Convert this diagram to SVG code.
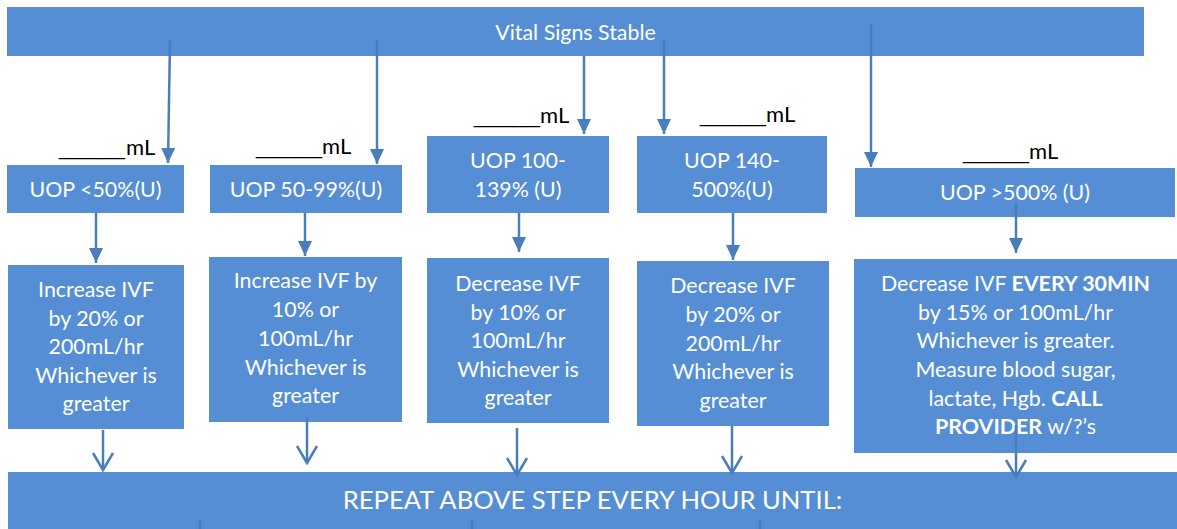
<svg xmlns="http://www.w3.org/2000/svg" width="1177" height="529" viewBox="0 0 1177 529">
<style>
.box{fill:#558ED5}
.t{font-family:Lato,'Liberation Sans',sans-serif;font-size:21.4px;fill:#ffffff;text-anchor:middle}
.big{font-size:25.6px}
.lbl{font-family:Lato,'Liberation Sans',sans-serif;font-size:22px;fill:#000000}
.u{font-family:'Liberation Sans',sans-serif}
.c{stroke:#4A7EBB;stroke-width:2.5;fill:none}
.f{marker-end:url(#fill)}
.o{marker-end:url(#open)}
</style>
<defs>
<marker id="fill" markerUnits="userSpaceOnUse" markerWidth="16" markerHeight="16" refX="15" refY="7" orient="auto" overflow="visible">
<path d="M0,0 L15,7 L0,14 z" fill="#4A7EBB"/>
</marker>
<marker id="open" markerUnits="userSpaceOnUse" markerWidth="24" markerHeight="24" refX="18" refY="11" orient="auto" overflow="visible">
<path d="M1,1 L18,11 L1,21" fill="none" stroke="#4A7EBB" stroke-width="2.5"/>
</marker>
</defs>

<g id="vital">
<rect class="box" x="7" y="7" width="1137" height="49"/>
<text class="t" x="575.5" y="40">Vital Signs Stable</text>
</g>

<g id="label1"><text class="lbl" x="59" y="155"><tspan class="u" textLength="66" lengthAdjust="spacingAndGlyphs">_____</tspan><tspan x="126">mL</tspan></text></g>
<g id="label2"><text class="lbl" x="256" y="154"><tspan class="u" textLength="66" lengthAdjust="spacingAndGlyphs">_____</tspan><tspan x="322">mL</tspan></text></g>
<g id="label3"><text class="lbl" x="474" y="123"><tspan class="u" textLength="66" lengthAdjust="spacingAndGlyphs">_____</tspan><tspan x="540">mL</tspan></text></g>
<g id="label4"><text class="lbl" x="700" y="122"><tspan class="u" textLength="66" lengthAdjust="spacingAndGlyphs">_____</tspan><tspan x="766">mL</tspan></text></g>
<g id="label5"><text class="lbl" x="963" y="159"><tspan class="u" textLength="66" lengthAdjust="spacingAndGlyphs">_____</tspan><tspan x="1029">mL</tspan></text></g>

<g id="uop1">
<rect class="box" x="7" y="165" width="177" height="48"/>
<text class="t" x="95.5" y="197">UOP &lt;50%(U)</text>
</g>
<g id="uop2">
<rect class="box" x="210" y="165" width="192" height="48"/>
<text class="t" x="306" y="197">UOP 50-99%(U)</text>
</g>
<g id="uop3">
<rect class="box" x="427" y="136" width="182" height="77"/>
<text class="t" x="518" y="168">UOP 100-</text>
<text class="t" x="518" y="197">139% (U)</text>
</g>
<g id="uop4">
<rect class="box" x="637" y="136" width="190" height="77"/>
<text class="t" x="732" y="168">UOP 140-</text>
<text class="t" x="732" y="197">500%(U)</text>
</g>
<g id="uop5">
<rect class="box" x="855" y="168" width="320" height="49"/>
<text class="t" x="1015" y="200">UOP &gt;500% (U)</text>
</g>

<g id="act1">
<rect class="box" x="8" y="265" width="176" height="164"/>
<text class="t" x="96" y="297">Increase IVF</text>
<text class="t" x="96" y="326">by 20% or</text>
<text class="t" x="96" y="354">200mL/hr</text>
<text class="t" x="96" y="383">Whichever is</text>
<text class="t" x="96" y="411">greater</text>
</g>
<g id="act2">
<rect class="box" x="209" y="257" width="193" height="165"/>
<text class="t" x="305.5" y="288">Increase IVF by</text>
<text class="t" x="305.5" y="317">10% or</text>
<text class="t" x="305.5" y="346">100mL/hr</text>
<text class="t" x="305.5" y="375">Whichever is</text>
<text class="t" x="305.5" y="403">greater</text>
</g>
<g id="act3">
<rect class="box" x="427" y="258" width="182" height="165"/>
<text class="t" x="518" y="291">Decrease IVF</text>
<text class="t" x="518" y="320">by 10% or</text>
<text class="t" x="518" y="348">100mL/hr</text>
<text class="t" x="518" y="377">Whichever is</text>
<text class="t" x="518" y="405">greater</text>
</g>
<g id="act4">
<rect class="box" x="637" y="261" width="192" height="165"/>
<text class="t" x="733" y="293">Decrease IVF</text>
<text class="t" x="733" y="322">by 20% or</text>
<text class="t" x="733" y="351">200mL/hr</text>
<text class="t" x="733" y="379">Whichever is</text>
<text class="t" x="733" y="408">greater</text>
</g>
<g id="act5">
<rect class="box" x="854" y="259" width="323" height="194"/>
<text class="t" x="1015.5" y="291">Decrease IVF <tspan font-weight="bold">EVERY 30MIN</tspan></text>
<text class="t" x="1015.5" y="320">by 15% or 100mL/hr</text>
<text class="t" x="1015.5" y="348">Whichever is greater.</text>
<text class="t" x="1015.5" y="377">Measure blood sugar,</text>
<text class="t" x="1015.5" y="406">lactate, Hgb. <tspan font-weight="bold">CALL</tspan></text>
<text class="t" x="1015.5" y="434"><tspan font-weight="bold">PROVIDER</tspan> w/?’s</text>
</g>

<g id="repeat">
<rect class="box" x="8" y="472" width="1169" height="57"/>
<text class="t big" x="592.5" y="509">REPEAT ABOVE STEP EVERY HOUR UNTIL:</text>
</g>

<g id="connectors">
<path class="c f" d="M170,40 L168,163"/>
<path class="c f" d="M377,40 L377,164"/>
<path class="c f" d="M584,56 L584,134"/>
<path class="c f" d="M664,40 L664,134"/>
<path class="c f" d="M871,24 L871,167"/>
<path class="c f" d="M96,213 L96,263"/>
<path class="c f" d="M305,213 L305,256"/>
<path class="c f" d="M519,213 L519,252"/>
<path class="c f" d="M733,213 L733,260"/>
<path class="c f" d="M1016,203 L1016,253"/>
<path class="c o" d="M103,430 L103,470"/>
<path class="c o" d="M307,417 L307,463"/>
<path class="c o" d="M517,428 L517,475"/>
<path class="c o" d="M732,426 L732,473"/>
<path class="c o" d="M1016,425 L1016,477"/>
<path class="c" d="M200,520 L200,529"/>
<path class="c" d="M472,520 L472,529"/>
<path class="c" d="M760,520 L760,529"/>
</g>
</svg>
